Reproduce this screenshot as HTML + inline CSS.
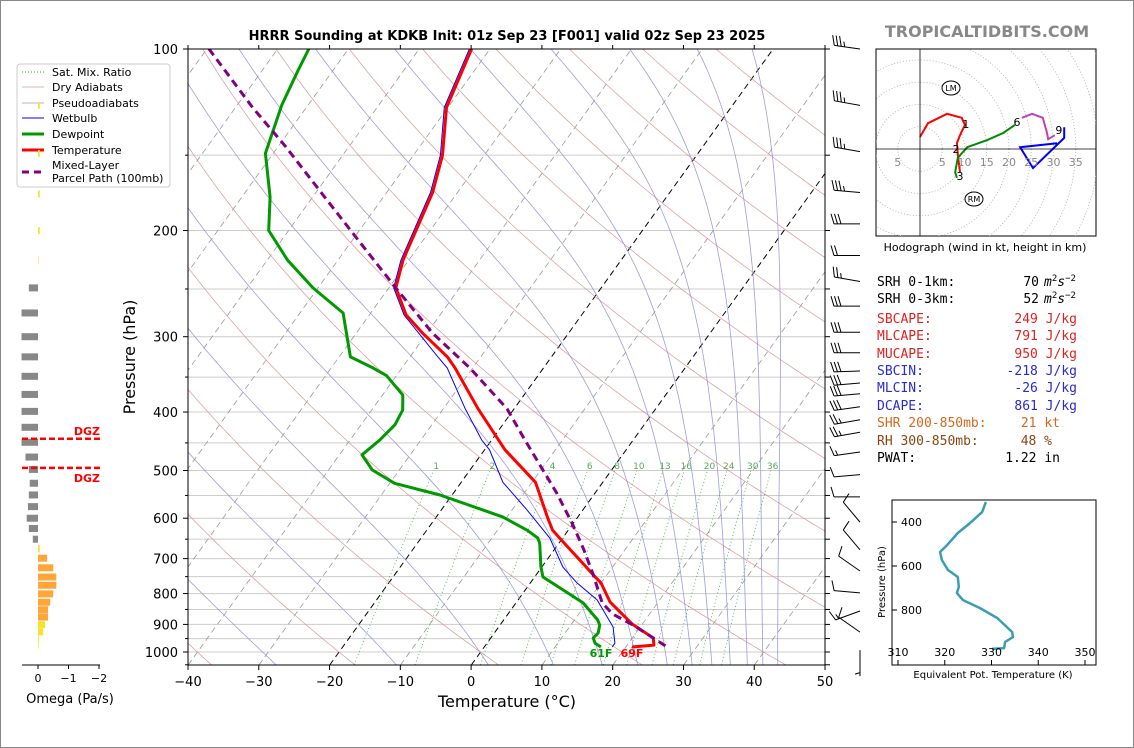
<!DOCTYPE html>
<html><head><meta charset="utf-8">
<style>
html,body{margin:0;padding:0;background:#fff;}
svg{display:block;font-family:"DejaVu Sans","Liberation Sans",sans-serif;}
.mono{font-family:"DejaVu Sans Mono","Liberation Mono",monospace;font-size:13px;}
</style></head>
<body>
<svg id="chart" width="1134" height="748" viewBox="0 0 1134 748" xmlns="http://www.w3.org/2000/svg">
<rect x="0.5" y="0.5" width="1133" height="747" fill="#fff" stroke="#888"/>
<defs><clipPath id="plotclip"><rect x="188" y="49" width="637" height="616"/></clipPath>
<clipPath id="hodoclip"><rect x="876" y="49" width="220" height="187"/></clipPath></defs>
<text x="507" y="40" text-anchor="middle" font-weight="bold" font-size="13">HRRR Sounding at KDKB Init: 01z Sep 23 [F001] valid 02z Sep 23 2025</text>
<text x="987" y="37" text-anchor="middle" font-weight="bold" font-size="16" fill="#888">TROPICALTIDBITS.COM</text>
<g id="bg" clip-path="url(#plotclip)"></g>
<g id="prof" clip-path="url(#plotclip)"></g>
<g id="axes"></g>
<text x="135" y="357" transform="rotate(-90 135 357)" text-anchor="middle" font-size="16">Pressure (hPa)</text>
<text x="507" y="707" text-anchor="middle" font-size="16">Temperature (°C)</text>
<text x="601" y="657" text-anchor="middle" font-weight="bold" font-size="11" fill="#009900">61F</text>
<text x="632" y="657" text-anchor="middle" font-weight="bold" font-size="11" fill="#ff0000">69F</text>
<g id="legend">
<rect x="17" y="64" width="153" height="123" rx="3" fill="#fff" fill-opacity="0.85" stroke="#ccc"/>
<line x1="22" y1="72" x2="44" y2="72" stroke="#339933" stroke-width="1" stroke-dasharray="1,2"/>
<text x="52" y="76" font-size="11">Sat. Mix. Ratio</text>
<line x1="22" y1="87" x2="44" y2="87" stroke="#dd9999" stroke-width="0.8"/>
<text x="52" y="91" font-size="11">Dry Adiabats</text>
<line x1="22" y1="103" x2="44" y2="103" stroke="#9999dd" stroke-width="0.8"/>
<text x="52" y="107" font-size="11">Pseudoadiabats</text>
<line x1="22" y1="118" x2="44" y2="118" stroke="#0000ff" stroke-width="1"/>
<text x="52" y="122" font-size="11">Wetbulb</text>
<line x1="22" y1="134" x2="44" y2="134" stroke="#009900" stroke-width="3"/>
<text x="52" y="138" font-size="11">Dewpoint</text>
<line x1="22" y1="150" x2="44" y2="150" stroke="#ff0000" stroke-width="3"/>
<text x="52" y="154" font-size="11">Temperature</text>
<line x1="22" y1="172" x2="44" y2="172" stroke="#800080" stroke-width="3" stroke-dasharray="7,5"/>
<text x="52" y="169" font-size="11">Mixed-Layer</text>
<text x="52" y="182" font-size="11">Parcel Path (100mb)</text>
</g>
<g id="omega"></g>
<g id="barbs"></g>
<g id="hodo"></g>
<text x="985" y="251" text-anchor="middle" font-size="11">Hodograph (wind in kt, height in km)</text>
<g class="mono">
<text x="877" y="286">SRH 0-1km:</text>
<text x="1039" y="286" text-anchor="end">70</text>
<text x="1044" y="286"><tspan font-style="italic">m</tspan><tspan dy="-5" font-size="9">2</tspan><tspan dy="5" font-style="italic">s</tspan><tspan dy="-5" font-size="9">−2</tspan></text>
<text x="877" y="303">SRH 0-3km:</text>
<text x="1039" y="303" text-anchor="end">52</text>
<text x="1044" y="303"><tspan font-style="italic">m</tspan><tspan dy="-5" font-size="9">2</tspan><tspan dy="5" font-style="italic">s</tspan><tspan dy="-5" font-size="9">−2</tspan></text>
<text x="877" y="323" fill="#dd2222">SBCAPE:</text>
<text x="1077" y="323" fill="#dd2222" text-anchor="end">249 J/kg</text>
<text x="877" y="340" fill="#dd2222">MLCAPE:</text>
<text x="1077" y="340" fill="#dd2222" text-anchor="end">791 J/kg</text>
<text x="877" y="358" fill="#dd2222">MUCAPE:</text>
<text x="1077" y="358" fill="#dd2222" text-anchor="end">950 J/kg</text>
<text x="877" y="375" fill="#2a2ad0">SBCIN:</text>
<text x="1077" y="375" fill="#2a2ad0" text-anchor="end">-218 J/kg</text>
<text x="877" y="392" fill="#2a2ad0">MLCIN:</text>
<text x="1077" y="392" fill="#2a2ad0" text-anchor="end">-26 J/kg</text>
<text x="877" y="410" fill="#2a2ad0">DCAPE:</text>
<text x="1077" y="410" fill="#2a2ad0" text-anchor="end">861 J/kg</text>
<text x="877" y="427" fill="#d2691e">SHR 200-850mb:</text>
<text x="1060" y="427" fill="#d2691e" text-anchor="end">21 kt</text>
<text x="877" y="445" fill="#8b4513">RH 300-850mb:</text>
<text x="1052" y="445" fill="#8b4513" text-anchor="end">48 %</text>
<text x="877" y="462">PWAT:</text>
<text x="1060" y="462" text-anchor="end">1.22 in</text>
</g>
<g id="thetae"></g>
</svg>
<script>
// ---------- data ----------
const tempP=[981,974,948,899,826,768,745,704,657,628,600,523,462,395,338,324,296,276,249,224,173,150,125,100];
const tempT=[20.9,23.8,23.0,18.6,13.2,10.0,8.1,4.7,0.5,-2.2,-4.1,-9.5,-17.1,-25.1,-32.5,-34.7,-40.6,-44.8,-49.0,-50.8,-53.5,-55.9,-60.2,-62.6];
const dewP=[981,967,948,930,902,885,829,783,751,723,660,647,628,597,549,525,499,471,445,420,397,375,348,338,324,274,249,224,200,176,149,124,109,100];
const dewT=[16.5,15.3,14.5,14.7,14.1,13.3,9.5,4.7,1.2,-0.1,-2.7,-3.5,-5.8,-10.6,-21.7,-29.3,-33.8,-36.8,-35.8,-35.2,-35.6,-37.1,-41.4,-44.1,-48.4,-53.9,-60.7,-67.1,-72.8,-76.0,-81.1,-83.7,-84.9,-85.6];
const wbP=[981,967,909,820,768,723,647,581,523,462,445,395,338,322,276,249,224,173,150,125,100];
const wbT=[18.1,18.1,16.2,11.2,6.6,3.0,-1.8,-7.9,-14.1,-19.3,-21.4,-26.9,-33.6,-36.4,-45.1,-49.3,-51.1,-53.8,-56.2,-60.5,-62.9];
const parcelP=[977,948,902,865,829,745,675,611,545,499,445,395,338,296,249,210,176,145,125,100];
const parcelT=[25.5,23.0,18.8,14.8,12.2,8.1,4.1,-0.2,-5.4,-9.7,-15.3,-21.0,-30.4,-39.2,-49.0,-58.5,-68.3,-79.0,-87.6,-99.7];
const xTicks=[-40,-30,-20,-10,0,10,20,30,40,50];
const pMajor=[100,200,300,400,500,600,700,800,900,1000];
const mixRatios=[1,2,4,6,8,10,13,16,20,24,30,36];
const dryT0=[-60,-40,-20,0,20,40,60,80,100,120,140,160,180,200];
const moistT0=[-60,-45,-27.6,-10.6,2.4,11.6,18.5,23.5,27.7,31.2,34,36.6,39,41.2,43.3];
const omegaP=[124,149,174,200,224,249,274,300,324,349,374,399,424,449,475,498,525,549,574,600,624,650,674,699,725,751,775,801,827,851,875,901,926,951,975];
const omegaV=[-0.06,-0.06,-0.06,-0.06,-0.01,0.3,0.54,0.54,0.54,0.54,0.54,0.54,0.54,0.54,0.41,0.3,0.27,0.3,0.33,0.37,0.3,0.17,-0.06,-0.3,-0.5,-0.6,-0.6,-0.5,-0.4,-0.33,-0.33,-0.23,-0.17,-0.03,-0.01];
const dgzP=[443,495];
const barbP=[100,124,148,173,195,220,243,267,295,319,342,358,373,392,412,432,466,508,553,609,677,734,798,855,927,993];
const barbDir=[278,280,280,275,270,270,280,270,270,270,268,265,265,262,260,260,262,265,270,320,320,305,275,250,305,180];
const barbSpd=[35,35,35,35,30,20,25,30,30,30,30,30,30,30,25,25,15,10,10,10,10,10,10,15,10,5];
const hodoRedU=[0,1.8,6.1,9.4,10.1,9.0,8.3,8.5,9.0];
const hodoRedV=[2.7,5.8,7.9,7.0,5.4,3.1,1.3,-1.3,-5.2];
const hodoGreenU=[8.3,7.9,8.5,10.6,15.1,18.7,21.3];
const hodoGreenV=[-6.5,-5.2,-2.0,0.4,2.0,3.6,5.4];
const hodoMagU=[22.9,25.2,27.6,28.5,28.8,30.3];
const hodoMagV=[7.0,7.9,7.0,3.8,2.2,3.1];
const hodoBlueU=[32.4,32.4,25.4,22.5,30.8];
const hodoBlueV=[4.9,2.5,-4.3,0.4,1.3];
const hodoLabels=['1','2','3','6','9'];
const hodoLabelU=[10.3,8.1,9.0,21.8,31.2];
const hodoLabelV=[5.6,0,-6.1,6.1,4.3];
const thetaeP=[977,973,945,923,900,836,791,755,723,695,650,618,573,536,505,450,405,355,309];
const thetaeV=[330.1,332.7,332.9,334.6,334.4,331.2,327.5,323.9,322.6,323.0,322.8,320.7,319.4,319.0,320.5,322.8,325.4,328.0,328.8];
const thetaeXTicks=[310,320,330,340,350];
const thetaeYTicks=[400,600,800];

// ---------- helpers ----------
const NS='http://www.w3.org/2000/svg';
function mk(tag,attrs,parent){const e=document.createElementNS(NS,tag);for(const k in attrs)e.setAttribute(k,attrs[k]);parent.appendChild(e);return e;}
function yP(p){return 49+603*Math.log10(p/100);}
function xT(T,p){return 188+(T+40)*7.078+0.72*(665-yP(p));}
function ptsTP(Ps,Ts){return Ps.map((p,i)=>xT(Ts[i],p).toFixed(1)+','+yP(p).toFixed(1)).join(' ');}
const bg=document.getElementById('bg'),prof=document.getElementById('prof'),axes=document.getElementById('axes');

for(let p=100;p<=1000;p+=50){
  const l=mk('line',{x1:188,x2:825,y1:yP(p),y2:yP(p),stroke:'#cccccc','stroke-width':1},bg);
  
  
}
for(let T=-150;T<=50;T+=10){
  const blk=(T===0||T===-20);
  const l=mk('line',{x1:xT(T,1050),y1:665,x2:xT(T,100),y2:49,stroke:blk?'#000':'#999','stroke-width':blk?1:0.8,'stroke-dasharray':'6,4'},bg);
  
  
}
dryT0.forEach(t0=>{
  const th=t0+273.15;const pts=[];
  for(let p=1050;p>=100;p-=10){pts.push(xT(th*Math.pow(p/1000,0.2857)-273.15,p).toFixed(1)+','+yP(p).toFixed(1));}
  const l=mk('polyline',{points:pts.join(' '),fill:'none',stroke:'#d98a8a','stroke-width':0.8,'stroke-opacity':0.8},bg);
  
  
});
function es(Tc){return 6.112*Math.exp(17.67*Tc/(Tc+243.5));}
function dTdp(Tk,p){const e=es(Tk-273.15);const rs=0.622*e/Math.max(p-e,1);const Lv=2.501e6,Rd=287.04,Cp=1005.7;
  return (1/p)*(Rd*Tk+Lv*rs)/(Cp+(Lv*Lv*rs*0.622)/(Rd*Tk*Tk));}
moistT0.forEach(t0=>{
  let Tk=t0+273.15,p=1050;const pts=[xT(t0,p).toFixed(1)+','+yP(p).toFixed(1)];
  while(p>100){const dp=-5;const k1=dTdp(Tk,p);const k2=dTdp(Tk+k1*dp,p+dp);Tk+=0.5*(k1+k2)*dp;p+=dp;
    pts.push(xT(Tk-273.15,p).toFixed(1)+','+yP(p).toFixed(1));}
  const l=mk('polyline',{points:pts.join(' '),fill:'none',stroke:'#8c8cdc','stroke-width':0.8,'stroke-opacity':0.85},bg);
  
  
});
function tdFromW(w,p){const e=w*p/(622+w);const g=Math.log(e/6.112);return 243.5*g/(17.67-g);}
mixRatios.forEach(w=>{
  const pts=[];for(let p=1050;p>=500;p-=10){pts.push(xT(tdFromW(w,p),p).toFixed(1)+','+yP(p).toFixed(1));}
  const l=mk('polyline',{points:pts.join(' '),fill:'none',stroke:'#44aa44','stroke-width':0.8,'stroke-dasharray':'1,2.5'},bg);
  
  
  const t=mk('text',{x:xT(tdFromW(w,488),488),y:469,'text-anchor':'middle','font-size':9,fill:'#55aa55'},bg);
  t.textContent=w;
  
  
});
const wb=mk('polyline',{points:ptsTP(wbP,wbT),fill:'none',stroke:'#0000ff','stroke-width':1},prof);


const dw=mk('polyline',{points:ptsTP(dewP,dewT),fill:'none',stroke:'#009900','stroke-width':3,'stroke-linejoin':'round'},prof);


const tp=mk('polyline',{points:ptsTP(tempP,tempT),fill:'none',stroke:'#ff0000','stroke-width':3,'stroke-linejoin':'round'},prof);


const pc=mk('polyline',{points:ptsTP(parcelP,parcelT),fill:'none',stroke:'#800080','stroke-width':3,'stroke-dasharray':'8,5'},prof);



const fr=mk('rect',{x:188,y:49,width:637,height:616,fill:'none',stroke:'#000','stroke-width':1},axes);


xTicks.forEach(T=>{
  const x=188+(T+40)*7.078;
  const tk=mk('line',{x1:x,x2:x,y1:665,y2:670,stroke:'#000'},axes);
  
  
  const tt=mk('line',{x1:x,x2:x,y1:49,y2:45,stroke:'#000'},axes);
  
  
  const t=mk('text',{x:x,y:686,'text-anchor':'middle','font-size':13},axes);
  t.textContent=(T<0?'−'+(-T):T);
  
  
});
for(let p=100;p<=1050;p+=50){
  const y=yP(p);const maj=pMajor.indexOf(p)>=0;
  const tk=mk('line',{x1:maj?183:185,x2:188,y1:y,y2:y,stroke:'#000'},axes);
  
  
  const tr=mk('line',{x1:825,x2:830,y1:y,y2:y,stroke:'#000'},axes);
  
  
}
pMajor.forEach(p=>{
  const t=mk('text',{x:178,y:yP(p)+5,'text-anchor':'end','font-size':13},axes);
  t.textContent=p;
  
  
});

const om=document.getElementById('omega');
function xO(v){return 38-v*30.5;}
omegaP.forEach((p,i)=>{
  const v=omegaV[i];const x0=Math.min(xO(0),xO(v)),x1=Math.max(xO(0),xO(v));
  const col=v>0?'#888888':(v<=-0.25?'#ffa63a':'#f5e52a');
  const r=mk('rect',{x:x0,y:yP(p)-3.5,width:Math.max(x1-x0,0.6),height:7,fill:col},om);
  
  
});
dgzP.forEach((p,i)=>{
  const l=mk('line',{x1:22,x2:100,y1:yP(p),y2:yP(p),stroke:'#ff0000','stroke-width':2.5,'stroke-dasharray':'6,3'},om);
  
  
  const t=mk('text',{x:100,y:i===0?yP(p)-4:yP(p)+14,'text-anchor':'end','font-size':11,'font-weight':'bold',fill:'#ff0000'},om);
  t.textContent='DGZ';
  
  
});
const oax=mk('line',{x1:22,x2:100,y1:665,y2:665,stroke:'#000'},om);


[0,-1,-2].forEach(v=>{
  const tk=mk('line',{x1:xO(v),x2:xO(v),y1:665,y2:669,stroke:'#000'},om);
  
  
  const t=mk('text',{x:xO(v),y:682,'text-anchor':'middle','font-size':11},om);
  t.textContent=v===0?'0':'−'+(-v);
  
  
});
const ot=mk('text',{x:70,y:703,'text-anchor':'middle','font-size':13},om);
ot.textContent='Omega (Pa/s)';



const bb=document.getElementById('barbs');
barbP.forEach((p,i)=>{
  const sx=860,sy=yP(p);const r=barbDir[i]*Math.PI/180;
  const ux=Math.sin(r),uy=-Math.cos(r);const px=-uy,py=ux;const L=26;
  const tx=sx+ux*L,ty=sy+uy*L;
  const st=mk('line',{x1:sx,y1:sy,x2:tx,y2:ty,stroke:'#000','stroke-width':1},bb);
  
  
  let n10=Math.floor(barbSpd[i]/10),n5=(barbSpd[i]%10>=5)?1:0,pos=0;
  for(let k=0;k<n10;k++){
    const bx=tx-ux*pos,by=ty-uy*pos;
    const f=mk('line',{x1:bx,y1:by,x2:bx+px*10+ux*3,y2:by+py*10+uy*3,stroke:'#000','stroke-width':1},bb);
    
    
    pos+=3.5;
  }
  if(n5){if(pos===0)pos=3.5;const bx=tx-ux*pos,by=ty-uy*pos;
    const f=mk('line',{x1:bx,y1:by,x2:bx+px*5+ux*1.5,y2:by+py*5+uy*1.5,stroke:'#000','stroke-width':1},bb);
    
    
  }
});

const hd=document.getElementById('hodo');
const HX=920,HY=149,HS=4.45;
const hbox=mk('rect',{x:876,y:49,width:220,height:187,fill:'#fff',stroke:'#000'},hd);


const hg=mk('g',{'clip-path':'url(#hodoclip)'},hd);
for(let r=5;r<=70;r+=5){
  const c=mk('circle',{cx:HX,cy:HY,r:r*HS,fill:'none',stroke:'#aaa','stroke-width':0.8,'stroke-dasharray':'1,2'},hg);
  
  
}
const hax1=mk('line',{x1:876,x2:1096,y1:HY,y2:HY,stroke:'#000','stroke-width':0.8},hd);


const hax2=mk('line',{x1:HX,x2:HX,y1:49,y2:236,stroke:'#000','stroke-width':0.8},hd);


[-5,5,10,15,20,25,30,35].forEach(r=>{
  const t=mk('text',{x:HX+r*HS,y:166,'text-anchor':'middle','font-size':11,fill:'#888'},hd);
  t.textContent=Math.abs(r);
  
  
});
function hodoPts(U,V){return U.map((u,i)=>(HX+u*HS).toFixed(1)+','+(HY-V[i]*HS).toFixed(1)).join(' ');}
[[hodoRedU,hodoRedV,'#ff0000','hodograph-0-3km'],[hodoGreenU,hodoGreenV,'#008800','hodograph-3-6km'],[hodoMagU,hodoMagV,'#bb44bb','hodograph-6-9km'],[hodoBlueU,hodoBlueV,'#0000ff','hodograph-9-12km']].forEach(s=>{
  const l=mk('polyline',{points:hodoPts(s[0],s[1]),fill:'none',stroke:s[2],'stroke-width':2},hg);
  
  
});
hodoLabels.forEach((lb,i)=>{
  const t=mk('text',{x:HX+hodoLabelU[i]*HS,y:HY-hodoLabelV[i]*HS+4,'text-anchor':'middle','font-size':11},hd);
  t.textContent=lb;
  
  
});
[['LM',951,88],['RM',974,199]].forEach(m=>{
  const e=mk('ellipse',{cx:m[1],cy:m[2],rx:9,ry:7,fill:'#fff',stroke:'#000','stroke-width':1},hd);
  
  
  const t=mk('text',{x:m[1],y:m[2]+3,'text-anchor':'middle','font-size':8},hd);
  t.textContent=m[0];
  
  
});

const te=document.getElementById('thetae');
function xE(v){return 898+(v-310)*4.675;}
function yE(p){return 522+(p-400)*0.22;}
const tb=mk('rect',{x:892,y:500,width:204,height:165,fill:'#fff',stroke:'#000'},te);


const tl=mk('polyline',{points:thetaeP.map((p,i)=>xE(thetaeV[i]).toFixed(1)+','+yE(p).toFixed(1)).join(' '),fill:'none',stroke:'#3a9db5','stroke-width':2.5,'stroke-linejoin':'round'},te);


thetaeYTicks.forEach(p=>{
  const tk=mk('line',{x1:892,x2:897,y1:yE(p),y2:yE(p),stroke:'#000'},te);
  
  
  const t=mk('text',{x:922,y:yE(p)+4,'text-anchor':'end','font-size':11},te);
  t.textContent=p;
  
  
});
thetaeXTicks.forEach(v=>{
  const tk=mk('line',{x1:xE(v),x2:xE(v),y1:665,y2:660,stroke:'#000'},te);
  
  
  const t=mk('text',{x:xE(v),y:656,'text-anchor':'middle','font-size':11},te);
  t.textContent=v;
  
  
});
const tey=mk('text',{x:885,y:582,'text-anchor':'middle','font-size':10,transform:'rotate(-90 885 582)'},te);
tey.textContent='Pressure (hPa)';


const tex=mk('text',{x:993,y:678,'text-anchor':'middle','font-size':10},te);
tex.textContent='Equivalent Pot. Temperature (K)';


</script>
</body></html>
